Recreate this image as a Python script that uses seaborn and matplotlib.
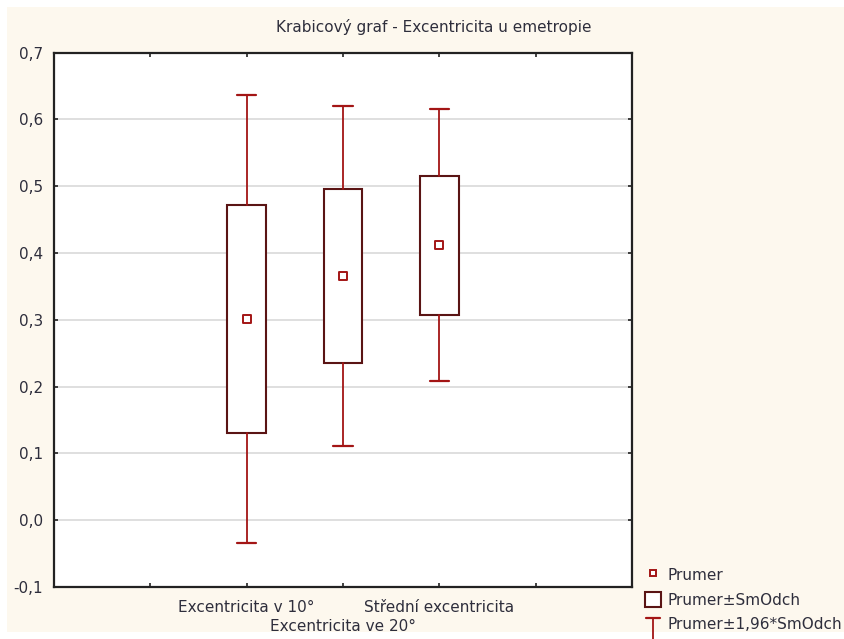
import matplotlib
matplotlib.use("Agg")
import matplotlib.pyplot as plt
from matplotlib.patches import Rectangle, Patch
from matplotlib.lines import Line2D
from matplotlib.legend_handler import HandlerBase
import seaborn as sns
import pandas as pd

# Summary statistics per variable
categories = ["Excentricita v 10°", "Excentricita ve 20°", "Střední excentricita"]
means = [0.301, 0.366, 0.412]
sds = [0.171, 0.130, 0.104]
z_factor = 1.96

y_ticks = [-0.1, 0.0, 0.1, 0.2, 0.3, 0.4, 0.5, 0.6, 0.7]

title = "Krabicový graf - Excentricita u emetropie"
legend_labels = ["Prumer", "Prumer±SmOdch", "Prumer±1,96*SmOdch"]

BOX_EDGE = "#5a1414"
RED = "#a31515"
TEXT = "#2e2e3c"
CREAM = "#fdf8ee"
FS = 11

sns.set_theme(style="white")
plt.rcParams["font.family"] = ["DejaVu Sans"]

W, H = 844, 639
fig = plt.figure(figsize=(W / 100, H / 100), dpi=100, facecolor="white")
fig.patches.append(Rectangle((7 / W, 7 / H), 1 - 7 / W, 1 - 14 / H,
                             transform=fig.transFigure, facecolor=CREAM,
                             edgecolor="none", zorder=-10))

ax = fig.add_axes([54 / W, 1 - 587 / H, (632 - 54) / W, (587 - 52.7) / H])
ax.set_facecolor("white")

df = pd.DataFrame({"cat": categories, "mean": means, "sd": sds})
df["pos"] = range(len(df))

# Box = mean ± SD, whiskers = mean ± 1.96*SD
stats = []
for _, r in df.iterrows():
    stats.append(dict(
        med=r["mean"], q1=r["mean"] - r["sd"], q3=r["mean"] + r["sd"],
        whislo=r["mean"] - z_factor * r["sd"], whishi=r["mean"] + z_factor * r["sd"],
        fliers=[], label=r["cat"]))

ax.bxp(stats, positions=df["pos"].tolist(), widths=0.4, patch_artist=True,
       showfliers=False,
       boxprops=dict(facecolor="white", edgecolor=BOX_EDGE, linewidth=1.5),
       whiskerprops=dict(color=RED, linewidth=1.3),
       capprops=dict(color=RED, linewidth=1.6),
       capwidths=0.2,
       medianprops=dict(visible=False),
       zorder=3)

sns.scatterplot(data=df, x="pos", y="mean", ax=ax, marker="s", s=26,
                facecolor="white", edgecolor=RED, linewidth=1.4, zorder=5,
                legend=False)

ax.set_xlim(-2, 4)
ax.set_ylim(-0.1, 0.7)

# staggered category labels: first and third on the major ticks,
# the middle one on a minor tick pushed one row lower
ax.xaxis.remove_overlapping_locs = False
ax.set_xticks([-1, 0, 1, 2, 3])
ax.set_xticklabels(["", categories[0], "", categories[2], ""],
                   fontsize=FS, color=TEXT)
ax.set_xticks([1], minor=True)
ax.set_xticklabels([categories[1]], minor=True, fontsize=FS, color=TEXT)

ax.set_yticks(y_ticks)
ax.set_yticklabels([f"{v:.1f}".replace(".", ",") for v in y_ticks],
                   fontsize=FS, color=TEXT)
ax.set_xlabel("")
ax.set_ylabel("")
ax.grid(axis="y", color="#d9d9d9", linewidth=1.2, zorder=0)
ax.set_axisbelow(True)
ax.tick_params(axis="both", which="major", direction="in", length=3, width=1.2,
               color="#222222", top=True, right=True, bottom=True, left=True)
ax.tick_params(axis="y", pad=8)
ax.tick_params(axis="x", which="major", pad=9)
ax.tick_params(axis="x", which="minor", direction="in", length=0, pad=23,
               bottom=True, top=False, labelbottom=True)
for s in ax.spines.values():
    s.set_color("#222222")
    s.set_linewidth(1.6)
    s.set_visible(True)

fig.text(434 / W, 1 - 27 / H, title, ha="center", va="center", fontsize=FS,
         color=TEXT)


class WhiskerHandler(HandlerBase):
    def create_artists(self, legend, orig_handle, xdescent, ydescent, width,
                       height, fontsize, trans):
        cx = width / 2 - xdescent
        mid = height / 2 - ydescent
        top = mid + 4
        bot = mid - 16
        cap = width * 0.42
        arts = [
            Line2D([cx, cx], [bot, top], color=RED, lw=1.3),
            Line2D([cx - cap, cx + cap], [top, top], color=RED, lw=1.6),
            Line2D([cx - cap, cx + cap], [bot, bot], color=RED, lw=1.6),
        ]
        for a in arts:
            a.set_transform(trans)
        return arts


h_mean = Line2D([], [], linestyle="none", marker="s", markersize=4.5,
                markerfacecolor="white", markeredgecolor=RED, markeredgewidth=1.4)
h_box = Patch(facecolor="white", edgecolor=BOX_EDGE, linewidth=1.5)
h_whisk = Line2D([], [])

leg = fig.legend([h_mean, h_box, h_whisk], legend_labels,
                 handler_map={h_whisk: WhiskerHandler()},
                 loc="upper left", bbox_to_anchor=(645 / W, 1 - 567 / H),
                 frameon=False, fontsize=FS, handlelength=1.05,
                 handleheight=1.2, handletextpad=0.4, labelspacing=0.56,
                 borderaxespad=0, borderpad=0)
for t in leg.get_texts():
    t.set_color(TEXT)

fig.savefig("out.png", dpi=100, facecolor=fig.get_facecolor())
